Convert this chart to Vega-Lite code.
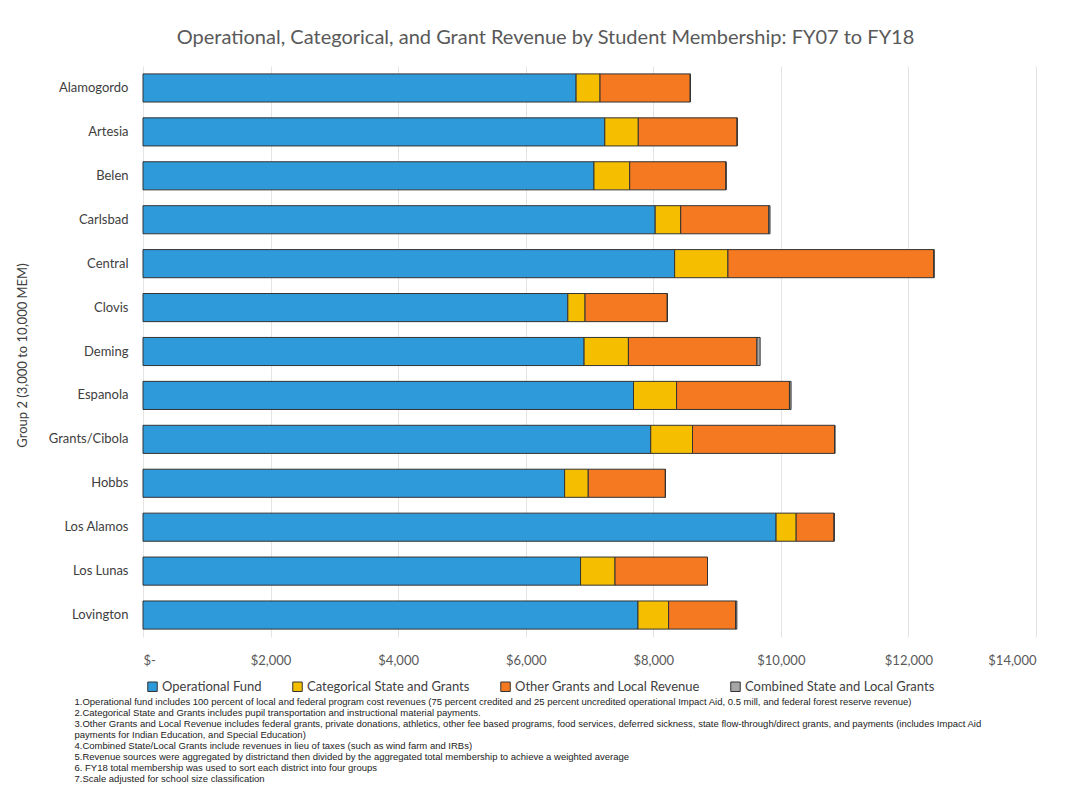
{
  "$schema": "https://vega.github.io/schema/vega-lite/v6.json",
  "autosize": {"type": "none"},
  "width": 893,
  "height": 571,
  "padding": {"left": 143, "top": 66, "right": 31, "bottom": 151},
  "background": "white",
  "config": {"view": {"stroke": null}, "font": "Lato"},
  "title": {
    "text": "Operational, Categorical, and Grant Revenue by Student Membership: FY07 to FY18",
    "font": "Lato",
    "fontSize": 20,
    "fontWeight": "normal",
    "color": "#595959",
    "anchor": "middle",
    "frame": "group",
    "dx": -44,
    "offset": 18
  },
  "data": {
    "values": [
      {"district": "Alamogordo", "k": 1, "source": "Operational Fund", "value": 6790},
      {"district": "Alamogordo", "k": 2, "source": "Categorical State and Grants", "value": 375},
      {"district": "Alamogordo", "k": 3, "source": "Other Grants and Local Revenue", "value": 1415},
      {"district": "Alamogordo", "k": 4, "source": "Combined State and Local Grants", "value": 0},
      {"district": "Artesia", "k": 1, "source": "Operational Fund", "value": 7240},
      {"district": "Artesia", "k": 2, "source": "Categorical State and Grants", "value": 525},
      {"district": "Artesia", "k": 3, "source": "Other Grants and Local Revenue", "value": 1550},
      {"district": "Artesia", "k": 4, "source": "Combined State and Local Grants", "value": 0},
      {"district": "Belen", "k": 1, "source": "Operational Fund", "value": 7070},
      {"district": "Belen", "k": 2, "source": "Categorical State and Grants", "value": 560},
      {"district": "Belen", "k": 3, "source": "Other Grants and Local Revenue", "value": 1510},
      {"district": "Belen", "k": 4, "source": "Combined State and Local Grants", "value": 0},
      {"district": "Carlsbad", "k": 1, "source": "Operational Fund", "value": 8030},
      {"district": "Carlsbad", "k": 2, "source": "Categorical State and Grants", "value": 400},
      {"district": "Carlsbad", "k": 3, "source": "Other Grants and Local Revenue", "value": 1380},
      {"district": "Carlsbad", "k": 4, "source": "Combined State and Local Grants", "value": 20},
      {"district": "Central", "k": 1, "source": "Operational Fund", "value": 8335},
      {"district": "Central", "k": 2, "source": "Categorical State and Grants", "value": 835},
      {"district": "Central", "k": 3, "source": "Other Grants and Local Revenue", "value": 3230},
      {"district": "Central", "k": 4, "source": "Combined State and Local Grants", "value": 0},
      {"district": "Clovis", "k": 1, "source": "Operational Fund", "value": 6660},
      {"district": "Clovis", "k": 2, "source": "Categorical State and Grants", "value": 270},
      {"district": "Clovis", "k": 3, "source": "Other Grants and Local Revenue", "value": 1290},
      {"district": "Clovis", "k": 4, "source": "Combined State and Local Grants", "value": 0},
      {"district": "Deming", "k": 1, "source": "Operational Fund", "value": 6915},
      {"district": "Deming", "k": 2, "source": "Categorical State and Grants", "value": 695},
      {"district": "Deming", "k": 3, "source": "Other Grants and Local Revenue", "value": 2015},
      {"district": "Deming", "k": 4, "source": "Combined State and Local Grants", "value": 50},
      {"district": "Espanola", "k": 1, "source": "Operational Fund", "value": 7690},
      {"district": "Espanola", "k": 2, "source": "Categorical State and Grants", "value": 675},
      {"district": "Espanola", "k": 3, "source": "Other Grants and Local Revenue", "value": 1770},
      {"district": "Espanola", "k": 4, "source": "Combined State and Local Grants", "value": 25},
      {"district": "Grants/Cibola", "k": 1, "source": "Operational Fund", "value": 7960},
      {"district": "Grants/Cibola", "k": 2, "source": "Categorical State and Grants", "value": 655},
      {"district": "Grants/Cibola", "k": 3, "source": "Other Grants and Local Revenue", "value": 2230},
      {"district": "Grants/Cibola", "k": 4, "source": "Combined State and Local Grants", "value": 0},
      {"district": "Hobbs", "k": 1, "source": "Operational Fund", "value": 6610},
      {"district": "Hobbs", "k": 2, "source": "Categorical State and Grants", "value": 370},
      {"district": "Hobbs", "k": 3, "source": "Other Grants and Local Revenue", "value": 1210},
      {"district": "Hobbs", "k": 4, "source": "Combined State and Local Grants", "value": 0},
      {"district": "Los Alamos", "k": 1, "source": "Operational Fund", "value": 9925},
      {"district": "Los Alamos", "k": 2, "source": "Categorical State and Grants", "value": 315},
      {"district": "Los Alamos", "k": 3, "source": "Other Grants and Local Revenue", "value": 595},
      {"district": "Los Alamos", "k": 4, "source": "Combined State and Local Grants", "value": 0},
      {"district": "Los Lunas", "k": 1, "source": "Operational Fund", "value": 6860},
      {"district": "Los Lunas", "k": 2, "source": "Categorical State and Grants", "value": 540},
      {"district": "Los Lunas", "k": 3, "source": "Other Grants and Local Revenue", "value": 1450},
      {"district": "Los Lunas", "k": 4, "source": "Combined State and Local Grants", "value": 0},
      {"district": "Lovington", "k": 1, "source": "Operational Fund", "value": 7760},
      {"district": "Lovington", "k": 2, "source": "Categorical State and Grants", "value": 480},
      {"district": "Lovington", "k": 3, "source": "Other Grants and Local Revenue", "value": 1050},
      {"district": "Lovington", "k": 4, "source": "Combined State and Local Grants", "value": 20}
    ]
  },
  "mark": {"type": "bar", "stroke": "#333333", "strokeWidth": 1},
  "encoding": {
    "y": {
      "field": "district",
      "type": "nominal",
      "sort": null,
      "scale": {"paddingInner": 0.36, "paddingOuter": 0.18},
      "axis": {
        "title": "Group 2 (3,000 to 10,000 MEM)",
        "titleFont": "Lato",
        "titleFontSize": 13,
        "titleFontWeight": "normal",
        "titleColor": "#404040",
        "titleX": -121,
        "titleY": 289,
        "titleAngle": 270,
        "titleAlign": "center",
        "titleBaseline": "middle",
        "labelFont": "Lato",
        "labelFontSize": 13,
        "labelColor": "#404040",
        "labelPadding": 15,
        "ticks": false,
        "domain": false,
        "grid": false
      }
    },
    "x": {
      "field": "value",
      "type": "quantitative",
      "stack": "zero",
      "scale": {"domain": [0, 14000], "nice": false},
      "axis": {
        "values": [0, 2000, 4000, 6000, 8000, 10000, 12000, 14000],
        "labelExpr": "datum.value == 0 ? '$-' : '$' + format(datum.value, ',')",
        "labelFont": "Lato",
        "labelFontSize": 13,
        "labelColor": "#595959",
        "labelPadding": 17,
        "ticks": false,
        "domain": false,
        "grid": true,
        "gridColor": "#e4e4e4",
        "gridWidth": 1,
        "title": [
          "1.Operational fund includes 100 percent of local and federal program cost revenues (75 percent credited and 25 percent uncredited operational  Impact Aid, 0.5 mill, and federal forest reserve revenue)",
          "2.Categorical State and Grants includes pupil transportation and instructional material payments.",
          "3.Other Grants and Local Revenue includes federal grants, private donations, athletics, other fee based programs, food services, deferred sickness, state flow-through/direct grants, and payments (includes Impact Aid",
          "payments for Indian Education, and Special Education)",
          "4.Combined State/Local Grants include revenues in lieu of taxes (such as wind farm and IRBs)",
          "5.Revenue sources were aggregated by districtand then divided by the aggregated total membership to achieve a weighted average",
          "6. FY18 total membership was used to sort each district into four groups",
          "7.Scale adjusted for school size classification"
        ],
        "titleFont": "Liberation Sans",
        "titleFontSize": 9.5,
        "titleFontWeight": "normal",
        "titleColor": "#222222",
        "titleLineHeight": 11.1,
        "titleAnchor": null,
        "titleAlign": "left",
        "titleBaseline": "top",
        "titleX": -69,
        "titleY": 59
      }
    },
    "color": {
      "field": "source",
      "type": "nominal",
      "scale": {
        "domain": ["Operational Fund", "Categorical State and Grants", "Other Grants and Local Revenue", "Combined State and Local Grants"],
        "range": ["#2F9ADA", "#F5BF00", "#F47920", "#A6A6A6"]
      },
      "legend": {
        "title": null,
        "orient": "none",
        "legendX": 3,
        "legendY": 614,
        "direction": "horizontal",
        "symbolType": "square",
        "symbolSize": 90,
        "symbolStrokeColor": "#333333",
        "symbolStrokeWidth": 1,
        "symbolOpacity": 1,
        "labelFont": "Lato",
        "labelFontSize": 13,
        "labelColor": "#404040",
        "labelOffset": 3,
        "columnPadding": 28,
        "labelLimit": 400
      }
    },
    "order": {"field": "k", "type": "quantitative"}
  }
}
